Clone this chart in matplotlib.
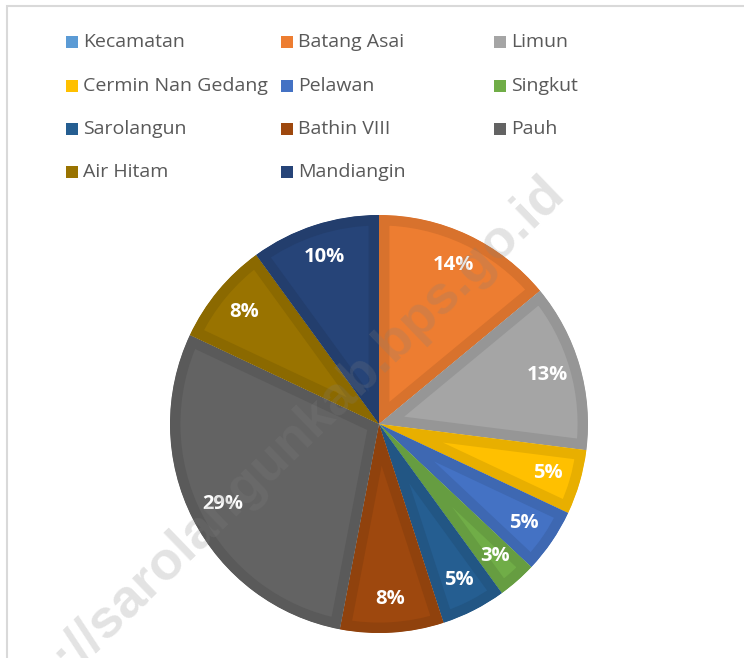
import numpy as np
import matplotlib
matplotlib.use("Agg")
import matplotlib.pyplot as plt
from matplotlib.patches import Rectangle
from matplotlib.colors import to_rgb

# data
categories = ["Kecamatan", "Batang Asai", "Limun", "Cermin Nan Gedang", "Pelawan",
              "Singkut", "Sarolangun", "Bathin VIII", "Pauh", "Air Hitam", "Mandiangin"]
shares = [0, 14, 13, 5, 5, 3, 5, 8, 29, 8, 10]
colors = ["#5B9BD5", "#ED7D31", "#A5A5A5", "#FFC000", "#4472C4", "#70AD47",
          "#255E91", "#9E480E", "#636363", "#997300", "#264478"]
watermark = "https://sarolangunkab.bps.go.id"

W, H = 744, 658
fig = plt.figure(figsize=(W / 100, H / 100), dpi=100)
fig.patch.set_facecolor("white")

# outer frame (only top and left visible)
fig.add_artist(Rectangle((7 / W, -0.1), 1.2, 1 - 6 / H + 0.1, transform=fig.transFigure,
                         facecolor="none", edgecolor="#D9D9D9", linewidth=1.5))

# pie axes: centre (379, 424), radius 209 px
cx, cy, r = 379, 424, 209
ax = fig.add_axes([(cx - r) / W, (H - cy - r) / H, 2 * r / W, 2 * r / H])

vals = [v for v in shares if v > 0]
cols = [c for v, c in zip(shares, colors) if v > 0]
wedges, texts, autotexts = ax.pie(
    vals, colors=cols, startangle=90, counterclock=False, radius=1,
    autopct="%1.0f%%", pctdistance=0.84,
    textprops=dict(color="white", fontsize=14.5, fontweight="bold", family="Open Sans"))

# thick inner border in a darker shade, like the office chart style
for w, c in zip(wedges, cols):
    dark = tuple(np.array(to_rgb(c)) * 0.91)
    w.set_edgecolor(dark)
    w.set_linewidth(15)
    w.set_clip_path(w)
    w.set_clip_on(True)
ax.set_xlim(-1, 1)
ax.set_ylim(-1, 1)
ax.set_aspect("equal")
ax.axis("off")

# legend, three columns
col_x = [66, 281, 494]
row_y = [42, 86, 129, 172]
for i, (name, c) in enumerate(zip(categories, colors)):
    x = col_x[i % 3]
    y = row_y[i // 3]
    fig.add_artist(Rectangle((x / W, 1 - (y + 6) / H), 12 / W, 12 / H,
                             transform=fig.transFigure, facecolor=c, edgecolor="none"))
    fig.text((x + 17) / W, 1 - y / H, name, fontsize=14, color="#595959",
             family="Open Sans", va="center", ha="left")

# watermark
fig.text(556 / W, 1 - 185 / H, watermark, fontsize=39, fontweight="bold",
         family="Liberation Sans", color="#808080", alpha=0.22,
         rotation=44, rotation_mode="anchor", ha="right", va="center", zorder=10)

fig.savefig("out.png", dpi=100)
